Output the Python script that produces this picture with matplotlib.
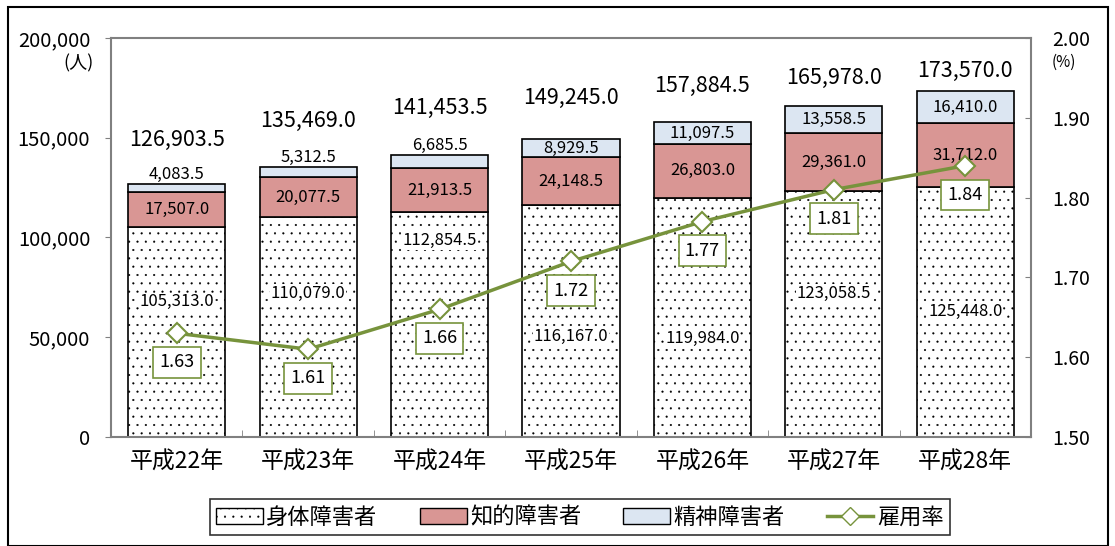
import matplotlib.pyplot as plt
import matplotlib.patches as mpatches
from matplotlib.lines import Line2D
import numpy as np

plt.rcParams['font.family'] = ['Noto Sans CJK JP', 'DejaVu Sans']
plt.rcParams['hatch.color'] = '#8c8c8c'
plt.rcParams['hatch.linewidth'] = 0.3

years = ['平成22年', '平成23年', '平成24年', '平成25年', '平成26年', '平成27年', '平成28年']
physical = [105313.0, 110079.0, 112854.5, 116167.0, 119984.0, 123058.5, 125448.0]
intellectual = [17507.0, 20077.5, 21913.5, 24148.5, 26803.0, 29361.0, 31712.0]
mental = [4083.5, 5312.5, 6685.5, 8929.5, 11097.5, 13558.5, 16410.0]
totals = [126903.5, 135469.0, 141453.5, 149245.0, 157884.5, 165978.0, 173570.0]
rate = [1.63, 1.61, 1.66, 1.72, 1.77, 1.81, 1.84]
# label heights (data units), placed by hand in the original
phys_label_y = [67700, 72200, 98300, 50600, 49600, 72200, 62700]
total_label_y = [148900, 158400, 164900, 169900, 175900, 179900, 183500]

fig = plt.figure(figsize=(11.15, 5.46), dpi=100)
ax = fig.add_axes([111/1115, 1 - 437/546, 920/1115, 399/546])
x = np.arange(len(years))
w = 0.74

b1 = ax.bar(x, physical, w, color='white', edgecolor='black', hatch='..', linewidth=1.2, zorder=2)
b2 = ax.bar(x, intellectual, w, bottom=physical, color='#D99694', edgecolor='black', linewidth=1.2, zorder=2)
bottom2 = [p + i for p, i in zip(physical, intellectual)]
b3 = ax.bar(x, mental, w, bottom=bottom2, color='#DCE6F2', edgecolor='black', linewidth=1.2, zorder=2)

fs = 12
for i in range(len(years)):
    ax.text(x[i], phys_label_y[i], f'{physical[i]:,.1f}', ha='center', va='center', fontsize=fs,
            bbox=dict(facecolor='white', edgecolor='none', pad=0.5), zorder=3)
    ax.text(x[i], physical[i] + intellectual[i] / 2, f'{intellectual[i]:,.1f}', ha='center', va='center',
            fontsize=fs, zorder=3)
    top = bottom2[i] + mental[i]
    if mental[i] < 7000:
        ax.text(x[i], top + 500, f'{mental[i]:,.1f}', ha='center', va='bottom', fontsize=fs, zorder=3)
    else:
        ax.text(x[i], bottom2[i] + mental[i] / 2, f'{mental[i]:,.1f}', ha='center', va='center', fontsize=fs, zorder=3)
    ax.text(x[i], total_label_y[i], f'{totals[i]:,.1f}', ha='center', va='center', fontsize=15.5, zorder=3)

ax.set_xlim(-0.5, len(years) - 0.5)
ax.set_ylim(0, 200000)
ax.set_yticks([0, 50000, 100000, 150000, 200000])
ax.set_yticklabels(['0', '50,000', '100,000', '150,000', '200,000'], fontsize=14.5)
ax.set_xticks(x)
ax.set_xticklabels(years, fontsize=16.5)
ax.set_xticks(np.arange(len(years) + 1) - 0.5, minor=True)
ax.tick_params(axis='x', which='major', length=0, pad=10)
ax.tick_params(axis='x', which='minor', length=5, direction='in', color='#808080')
ax.tick_params(axis='y', length=4, direction='out', color='#808080', pad=11)
for s in ax.spines.values():
    s.set_color('#808080')
    s.set_linewidth(1.5)
ax.text(-0.63, 187500, '(人)', ha='right', va='center', fontsize=13)

ax2 = ax.twinx()
ax2.set_ylim(1.5, 2.0)
ax2.set_yticks([1.5, 1.6, 1.7, 1.8, 1.9, 2.0])
ax2.set_yticklabels(['1.50', '1.60', '1.70', '1.80', '1.90', '2.00'], fontsize=14)
ax2.tick_params(axis='y', length=4, direction='in', color='#808080', pad=15)
for s in ax2.spines.values():
    s.set_visible(False)
ax2.plot(x, rate, color='#77933C', linewidth=2.5, marker='D', markersize=10,
         markerfacecolor='white', markeredgecolor='#77933C', markeredgewidth=1.5, zorder=4)
for i in range(len(years)):
    ax2.annotate(f'{rate[i]:.2f}', (x[i], rate[i]), xytext=(0, -21), textcoords='offset points',
                 ha='center', va='center', fontsize=13,
                 bbox=dict(boxstyle='square,pad=0.35', facecolor='white', edgecolor='#77933C', linewidth=1.2))
ax2.text(len(years) - 0.5 + 0.16, 1.97, '(%)', ha='left', va='center', fontsize=11)

handles = [mpatches.Patch(facecolor='white', edgecolor='black', hatch='..', label='身体障害者'),
           mpatches.Patch(facecolor='#D99694', edgecolor='black', label='知的障害者'),
           mpatches.Patch(facecolor='#DCE6F2', edgecolor='black', label='精神障害者'),
           Line2D([0], [0], color='#77933C', linewidth=2.5, marker='D', markersize=9,
                  markerfacecolor='white', markeredgecolor='#77933C', label='雇用率')]
leg = fig.legend(handles=handles, loc='center', bbox_to_anchor=(580/1115, 1 - 517/546), ncol=4,
                 fontsize=16, frameon=True, fancybox=False, edgecolor='black', handlelength=2.1,
                 handleheight=0.7, handletextpad=0.15, columnspacing=1.9, borderpad=0.3)
leg.get_frame().set_linewidth(1.2)

fig.patches.append(mpatches.Rectangle((8/1115, 0), 1100/1115, 1 - 7/546, transform=fig.transFigure,
                                      fill=False, edgecolor='black', linewidth=1.5))

fig.savefig('out.png', dpi=100)
